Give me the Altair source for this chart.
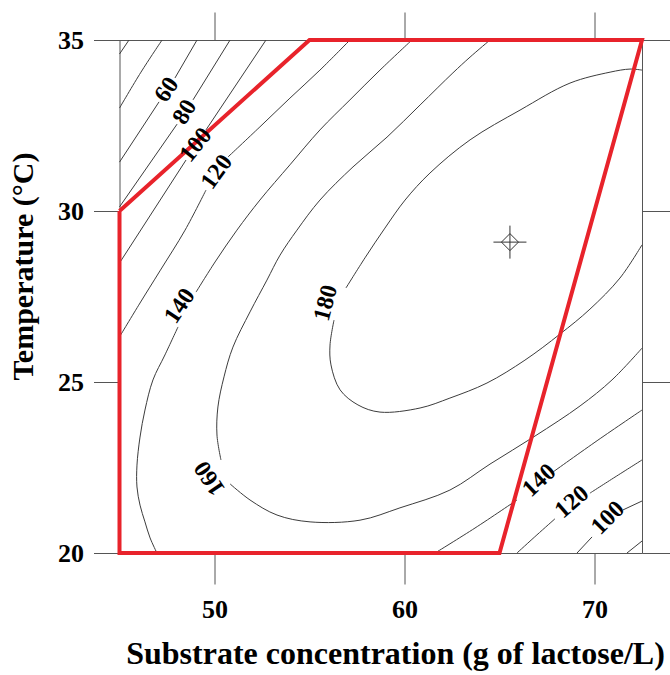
import altair as alt
import pandas as pd

# Contour polylines of the fitted response (level, substrate g/L, temperature °C).
# Lines are split where an inline label interrupts them.
contours = [
    (20, [45.50, 45.00], [35.00, 34.59]),
    (40, [47.24, 46.13, 45.00], [35.00, 34.06, 33.01]),
    (60, [49.08, 47.92], [35.00, 33.89]),
    (60, [47.08, 45.00], [33.19, 31.43]),
    (80, [50.82, 48.87], [35.00, 33.25]),
    (80, [48.03, 45.00], [32.54, 30.12]),
    (100, [52.71, 49.55], [35.00, 32.37]),
    (100, [48.50, 45.00], [31.49, 28.48]),
    (120, [57.13, 55.55, 53.97, 52.39, 50.71], [35.00, 34.12, 33.30, 32.46, 31.58]),
    (120, [49.55, 48.45, 47.13, 46.08, 45.00], [30.61, 29.44, 28.25, 27.31, 26.32]),
    (140, [60.39, 58.71, 57.13, 55.55, 53.97, 52.39, 51.18, 50.03, 49.03],
          [35.00, 34.12, 33.25, 32.37, 31.35, 30.32, 29.44, 28.51, 27.63]),
    (140, [48.08, 47.39, 46.76, 46.34, 46.08, 45.92, 45.92, 46.08, 46.34, 46.61, 46.97],
          [26.61, 25.79, 25.06, 24.18, 23.39, 22.57, 21.93, 21.40, 20.91, 20.44, 20.00]),
    (160, [64.50, 63.45, 62.55, 60.82, 59.08, 57.29, 55.55, 54.34, 53.45, 52.76, 51.87,
           50.97, 50.50, 50.18, 50.13, 50.34],
          [35.00, 34.50, 34.04, 33.10, 32.16, 31.29, 30.32, 29.44, 28.71, 27.98, 27.05,
           26.02, 25.15, 24.27, 23.45, 22.72]),
    (160, [50.82, 51.87, 53.29, 55.03, 57.66, 59.76, 62.39, 64.50, 66.87, 69.24, 70.92, 72.50],
          [22.02, 21.55, 21.11, 20.91, 20.96, 21.32, 21.84, 22.60, 23.42, 24.30, 25.06, 25.99]),
    (180, [72.50, 71.87, 70.82, 68.71, 66.08, 63.45, 61.34, 60.03, 58.97, 57.92, 56.92],
          [34.12, 34.15, 34.06, 33.74, 32.95, 32.08, 31.11, 30.32, 29.50, 28.63, 27.75]),
    (180, [56.29, 56.08, 56.13, 56.61, 57.55, 58.71, 60.82, 62.39, 64.34, 66.34, 68.18,
           69.76, 71.34, 72.50],
          [26.81, 26.08, 25.50, 24.77, 24.33, 24.12, 24.24, 24.53, 24.97, 25.64, 26.40,
           27.13, 28.04, 29.01]),
    (140, [61.61, 63.71, 65.92], [20.00, 20.73, 21.55]),
    (140, [67.82, 70.18, 72.50], [22.37, 23.30, 24.18]),
    (120, [65.92, 66.97, 67.92], [20.00, 20.53, 21.00]),
    (120, [69.76, 71.08, 72.50], [21.75, 22.22, 22.72]),
    (100, [69.08, 69.87], [20.00, 20.47]),
    (100, [71.50, 72.50], [21.26, 21.52]),
    (80, [71.71, 72.50], [20.00, 20.35]),
]

# Inline contour labels
label_text = ["60", "80", "100", "120", "140", "180", "160", "140", "120", "100"]
label_x = [47.50, 48.45, 49.03, 50.13, 48.18, 55.87, 49.76, 67.10, 68.82, 70.71]
label_y = [33.54, 32.89, 31.93, 31.14, 27.22, 27.31, 22.19, 22.12, 21.49, 21.02]
label_angle = [304, 301, 309, 306, 304, 285, 236, 317, 319, 315]

# Experimental region boundary
region_x = [45, 55, 72.5, 65, 45, 45]
region_y = [30, 35, 35, 20, 20, 30]

# Predicted optimum
opt_x = [65.55]
opt_y = [29.09]

x_ticks = [50, 60, 70]
y_ticks = [20, 25, 30, 35]

rows = []
for seg, (level, xs, ys) in enumerate(contours):
    for i, (xv, yv) in enumerate(zip(xs, ys)):
        rows.append({"seg": seg, "level": level, "idx": i, "x": xv, "y": yv})
contour_df = pd.DataFrame(rows)

labels_df = pd.DataFrame({"text": label_text, "x": label_x, "y": label_y, "angle": label_angle})
region_df = pd.DataFrame({"x": region_x, "y": region_y, "idx": list(range(len(region_x)))})
opt_df = pd.DataFrame({"x": opt_x, "y": opt_y})

FONT = "Liberation Serif"
GREY = "#555555"
xscale = alt.Scale(domain=[45, 72.5], nice=False, zero=False)
yscale = alt.Scale(domain=[20, 35], nice=False, zero=False)

x_main = alt.X(
    "x:Q", scale=xscale,
    axis=alt.Axis(
        orient="bottom", values=x_ticks, tickSize=31, tickColor=GREY, tickWidth=1,
        domain=False, grid=False, labelFont=FONT, labelFontSize=26, labelFontWeight="bold",
        labelColor="black", labelPadding=12, labelOverlap=False,
        title="Substrate concentration (g of lactose/L)", titleFont=FONT, titleFontSize=32,
        titleFontWeight="bold", titleColor="black", titleX=275.5, titleY=110,
        titleAlign="center", titleBaseline="alphabetic",
    ),
)
y_main = alt.Y(
    "y:Q", scale=yscale,
    axis=alt.Axis(
        orient="left", values=y_ticks, tickSize=26, tickColor=GREY, tickWidth=1,
        domain=False, grid=False, labelFont=FONT, labelFontSize=26, labelFontWeight="bold",
        labelColor="black", labelPadding=10, labelOverlap=False,
        title="Temperature (°C)", titleFont=FONT, titleFontSize=30, titleFontWeight="bold",
        titleColor="black", titleAngle=270, titleX=-87, titleY=226,
        titleAlign="center", titleBaseline="alphabetic",
    ),
)
x_top = alt.X(
    "x:Q", scale=xscale,
    axis=alt.Axis(orient="top", values=x_ticks, tickSize=28, tickColor=GREY, tickWidth=1,
                  domain=False, grid=False, labels=False, title=None),
)
y_right = alt.Y(
    "y:Q", scale=yscale,
    axis=alt.Axis(orient="right", values=y_ticks, tickSize=28, tickColor=GREY, tickWidth=1,
                  domain=False, grid=False, labels=False, title=None),
)
x_plain = alt.X("x:Q", scale=xscale, axis=None)
y_plain = alt.Y("y:Q", scale=yscale, axis=None)

lines = alt.Chart(contour_df).mark_line(
    color="#3c3c3c", strokeWidth=1, interpolate="catmull-rom"
).encode(x=x_main, y=y_main, detail="seg:N", order="idx:Q")

region = alt.Chart(region_df).mark_line(
    color="#e8232b", strokeWidth=4, strokeJoin="miter"
).encode(x=x_top, y=y_right, order="idx:Q")

labels = alt.Chart(labels_df).mark_text(
    font=FONT, fontSize=24, fontWeight="bold", color="black", align="center", baseline="middle"
).encode(x=x_plain, y=y_plain, text="text:N", angle=alt.Angle("angle:Q", scale=None))

opt_diamond = alt.Chart(opt_df).mark_point(
    shape="diamond", size=290, filled=False, color="#333333", strokeWidth=1, opacity=1
).encode(x=x_plain, y=y_plain)

opt_cross = alt.Chart(opt_df).mark_point(
    shape="M-1,0L1,0M0,-1L0,1", size=1089, filled=False, color="#333333", strokeWidth=1, opacity=1
).encode(x=x_plain, y=y_plain)

chart = alt.layer(lines, region, labels, opt_diamond, opt_cross).resolve_axis(
    x="independent", y="independent"
).properties(
    width=522.5, height=513,
    autosize=alt.AutoSizeParams(type="none"),
    padding={"left": 119.5, "top": 40, "right": 28, "bottom": 122},
    background="white",
).configure_view(stroke=GREY, strokeWidth=1)

chart.save("out.html", embed_options={"renderer": "svg", "actions": False})
